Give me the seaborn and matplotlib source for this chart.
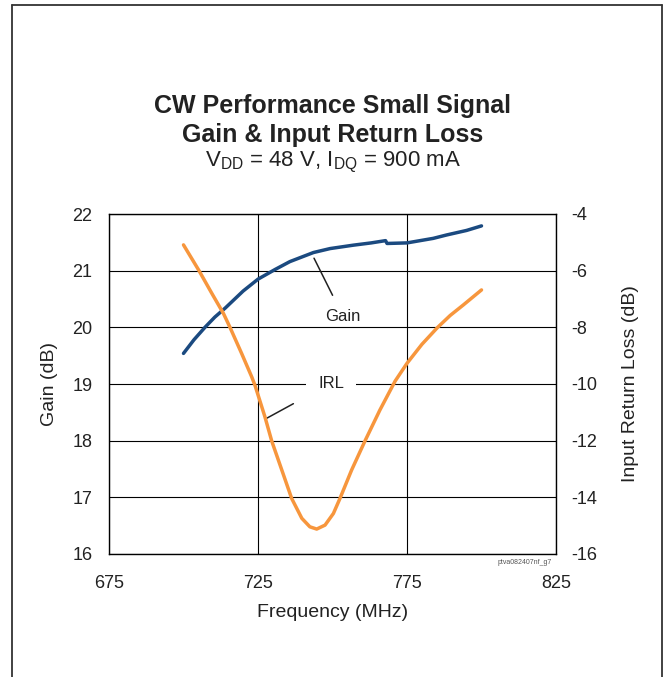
import matplotlib
matplotlib.use("Agg")
import matplotlib.pyplot as plt
import seaborn as sns
import pandas as pd
from matplotlib.lines import Line2D

sns.set_theme(style="white")
plt.rcParams['font.family'] = ['Liberation Sans', 'DejaVu Sans']
plt.rcParams['mathtext.fontset'] = 'custom'
plt.rcParams['mathtext.rm'] = 'Liberation Sans'
plt.rcParams['mathtext.it'] = 'Liberation Sans:italic'
plt.rcParams['mathtext.bf'] = 'Liberation Sans:bold'

# ---- data ----
gain_freq = [700, 703.5, 707.2, 710.5, 714.0, 720, 725, 730.7, 735.7, 743.6, 749.2,
             757, 763, 767.8, 768.3, 775, 783.8, 788.3, 795, 800]
gain_db = [19.54, 19.78, 20.0, 20.18, 20.34, 20.64, 20.85, 21.02, 21.16, 21.32, 21.39,
           21.45, 21.49, 21.53, 21.48, 21.49, 21.57, 21.63, 21.71, 21.79]

irl_freq = [700, 705.1, 709.5, 713.4, 715.6, 719.5, 722.9, 724, 727.3, 729.6, 733.0,
            736.3, 739.7, 742.4, 744.7, 747.5, 750.3, 752.5, 756.4, 760.9, 765.9,
            771.0, 775, 780, 785.2, 789.5, 793.9, 800]
irl_db = [-5.09, -5.98, -6.8, -7.51, -8.0, -8.92, -9.75, -10.05, -11.15, -12.01, -13.04,
          -14.04, -14.74, -15.04, -15.12, -14.98, -14.57, -14.04, -13.04, -12.01, -10.92,
          -9.9, -9.27, -8.6, -8.01, -7.58, -7.21, -6.68]

x_ticks = [675, 725, 775, 825]
gain_ticks = [16, 17, 18, 19, 20, 21, 22]
irl_ticks = [-16, -14, -12, -10, -8, -6, -4]

gain_df = pd.DataFrame({"Frequency": gain_freq, "Gain": gain_db})
irl_df = pd.DataFrame({"Frequency": irl_freq, "IRL": irl_db})

GAIN_COLOR = "#1B4A80"
IRL_COLOR = "#F7963D"

fig = plt.figure(figsize=(6.66, 6.77), dpi=100)
ax = fig.add_axes([109/666, 1-554/677, (556-109)/666, (554-214)/677])
ax2 = ax.twinx()

sns.lineplot(data=gain_df, x="Frequency", y="Gain", ax=ax, color=GAIN_COLOR,
             linewidth=2.5, zorder=5)
sns.lineplot(data=irl_df, x="Frequency", y="IRL", ax=ax2, color=IRL_COLOR,
             linewidth=2.5, zorder=5)
for line in ax.lines + ax2.lines:
    line.set_solid_joinstyle("round")
    line.set_solid_capstyle("round")

ax.set_xlim(675, 825)
ax.set_ylim(16, 22)
ax2.set_ylim(-16, -4)
ax.set_xticks(x_ticks)
ax.set_yticks(gain_ticks)
ax2.set_yticks(irl_ticks)
ax.set_xticklabels([str(v) for v in x_ticks])
ax.set_yticklabels([str(v) for v in gain_ticks])
ax2.set_yticklabels([str(v) for v in irl_ticks])

ax.grid(True, color="black", linewidth=0.8)
ax.set_axisbelow(True)
for s in ax.spines.values():
    s.set_color("black")
    s.set_linewidth(1.0)
for s in ax2.spines.values():
    s.set_visible(False)

ax.tick_params(axis="both", length=0, labelsize=13, colors="#222222")
ax.tick_params(axis="y", pad=12)
ax.tick_params(axis="x", pad=15)
ax2.tick_params(axis="y", length=0, labelsize=13, colors="#222222", pad=11)

ax.set_xlabel("Frequency (MHz)", fontsize=14, color="#222222", labelpad=8.5)
ax.set_ylabel("Gain (dB)", fontsize=14, color="#222222", labelpad=10)
ax2.set_ylabel("Input Return Loss (dB)", fontsize=14, color="#222222", labelpad=18)

# annotations
ax.annotate("Gain", xy=(743.8, 21.22), xytext=(753.5, 20.2), fontsize=12,
            color="#222222", ha="center", va="center",
            arrowprops=dict(arrowstyle="-", color="#222222", lw=1.1,
                            shrinkA=8, shrinkB=0))
ax2.annotate("IRL", xy=(727.9, -11.21), xytext=(749.5, -9.97), fontsize=12,
             color="#222222", ha="center", va="center", zorder=3,
             bbox=dict(boxstyle="square,pad=0.75", fc="white", ec="none"),
             arrowprops=dict(arrowstyle="-", color="#222222", lw=1.1,
                             shrinkA=10, shrinkB=0))

# titles
fig.text(333/666, 1-106/677, "CW Performance Small Signal", fontsize=18,
         fontweight="bold", ha="center", va="center", color="#222222")
fig.text(333/666, 1-135/677, "Gain & Input Return Loss", fontsize=18,
         fontweight="bold", ha="center", va="center", color="#222222")
fig.text(333/666, 1-162/677, r"V$_{\rm DD}$ = 48 V, I$_{\rm DQ}$ = 900 mA",
         fontsize=16, ha="center", va="center", color="#222222")
fig.text(525/666, 1-562/677, "ptva082407nf_g7", fontsize=5, ha="center",
         va="center", color="#555555")

# outer frame (top, left, right)
fc = "#333333"
fig.add_artist(Line2D([12/666, 12/666], [0, 1-5/677], transform=fig.transFigure,
                      color=fc, lw=1.3))
fig.add_artist(Line2D([662/666, 662/666], [0, 1-5/677], transform=fig.transFigure,
                      color=fc, lw=1.3))
fig.add_artist(Line2D([12/666, 662/666], [1-5/677, 1-5/677], transform=fig.transFigure,
                      color=fc, lw=1.3))

fig.savefig("out.png", dpi=100)
